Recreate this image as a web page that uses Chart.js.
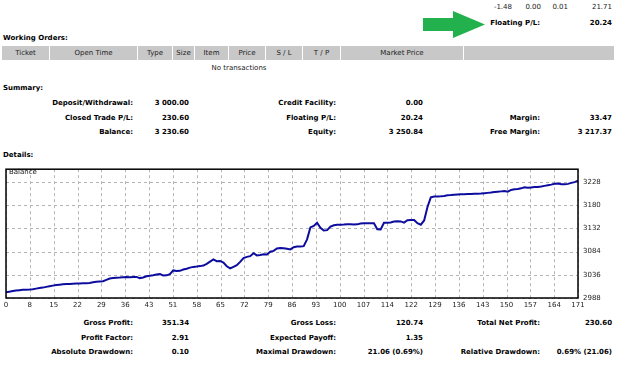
<!DOCTYPE html>
<html><head><meta charset="utf-8">
<script src="https://cdn.jsdelivr.net/npm/chart.js@4.4.1/dist/chart.umd.min.js"></script>
<style>
html,body{margin:0;padding:0;background:#fff;}
body{width:625px;height:366px;position:relative;overflow:hidden;font-family:"DejaVu Sans",sans-serif;font-size:7px;color:#222;}
.t{position:absolute;white-space:nowrap;line-height:9px;height:9px;}
.b{font-weight:bold;color:#000;}
.hc{position:absolute;top:0;height:14px;line-height:14px;text-align:center;color:#222;}
.sep{position:absolute;top:0;width:1px;height:14px;background:#fff;}
#wrap{position:absolute;left:0;top:160px;width:625px;height:155px;}
</style>
</head><body>

<!-- top fragment -->
<div class="t" style="right:113px;top:3px">-1.48</div>
<div class="t" style="right:84px;top:3px">0.00</div>
<div class="t" style="right:57px;top:3px">0.01</div>
<div class="t" style="right:13px;top:3px">21.71</div>
<svg style="position:absolute;left:0;top:0" width="625" height="45">
  <polygon points="423,18 453,18 453,11 485,24.5 453,38 453,31 423,31" fill="#22b14c"/>
</svg>
<div class="t b" style="right:85px;top:19px">Floating P/L:</div>
<div class="t b" style="right:13px;top:19px">20.24</div>

<!-- working orders -->
<div class="t b" style="left:3px;top:34px">Working Orders:</div>
<div style="position:absolute;left:2px;top:46px;width:612px;height:14px;background:#c8c8c8;">
  <div class="hc" style="left:0;width:47px">Ticket</div>
  <div class="sep" style="left:47px"></div>
  <div class="hc" style="left:48px;width:87px">Open Time</div>
  <div class="sep" style="left:135px"></div>
  <div class="hc" style="left:136px;width:34px">Type</div>
  <div class="sep" style="left:170px"></div>
  <div class="hc" style="left:171px;width:21px">Size</div>
  <div class="sep" style="left:192px"></div>
  <div class="hc" style="left:193px;width:33px">Item</div>
  <div class="sep" style="left:226px"></div>
  <div class="hc" style="left:227px;width:36px">Price</div>
  <div class="sep" style="left:263px"></div>
  <div class="hc" style="left:264px;width:36px">S / L</div>
  <div class="sep" style="left:300px"></div>
  <div class="hc" style="left:301px;width:37px">T / P</div>
  <div class="sep" style="left:338px"></div>
  <div class="hc" style="left:339px;width:122px">Market Price</div>
  <div class="sep" style="left:461px"></div>
</div>
<div class="t" style="left:0;width:478px;text-align:center;top:64px">No transactions</div>

<!-- summary -->
<div class="t b" style="left:3px;top:84px">Summary:</div>
<div class="t b" style="right:492px;top:99px">Deposit/Withdrawal:</div>
<div class="t b" style="right:436px;top:99px">3 000.00</div>
<div class="t b" style="right:289px;top:99px">Credit Facility:</div>
<div class="t b" style="right:202px;top:99px">0.00</div>

<div class="t b" style="right:492px;top:114px">Closed Trade P/L:</div>
<div class="t b" style="right:436px;top:114px">230.60</div>
<div class="t b" style="right:289px;top:114px">Floating P/L:</div>
<div class="t b" style="right:202px;top:114px">20.24</div>
<div class="t b" style="right:85px;top:114px">Margin:</div>
<div class="t b" style="right:13px;top:114px">33.47</div>

<div class="t b" style="right:492px;top:128px">Balance:</div>
<div class="t b" style="right:436px;top:128px">3 230.60</div>
<div class="t b" style="right:289px;top:128px">Equity:</div>
<div class="t b" style="right:202px;top:128px">3 250.84</div>
<div class="t b" style="right:85px;top:128px">Free Margin:</div>
<div class="t b" style="right:13px;top:128px">3 217.37</div>

<div class="t b" style="left:3px;top:151px">Details:</div>

<div id="wrap"><canvas id="c" width="625" height="155"></canvas></div>
<div class="t" style="left:9px;top:168px;color:#111">Balance</div>

<!-- stats -->
<div class="t b" style="right:492px;top:319px">Gross Profit:</div>
<div class="t b" style="right:436px;top:319px">351.34</div>
<div class="t b" style="right:289px;top:319px">Gross Loss:</div>
<div class="t b" style="right:202px;top:319px">120.74</div>
<div class="t b" style="right:85px;top:319px">Total Net Profit:</div>
<div class="t b" style="right:13px;top:319px">230.60</div>

<div class="t b" style="right:492px;top:334px">Profit Factor:</div>
<div class="t b" style="right:436px;top:334px">2.91</div>
<div class="t b" style="right:289px;top:334px">Expected Payoff:</div>
<div class="t b" style="right:202px;top:334px">1.35</div>

<div class="t b" style="right:492px;top:348px">Absolute Drawdown:</div>
<div class="t b" style="right:436px;top:348px">0.10</div>
<div class="t b" style="right:289px;top:348px">Maximal Drawdown:</div>
<div class="t b" style="right:202px;top:348px">21.06 (0.69%)</div>
<div class="t b" style="right:85px;top:348px">Relative Drawdown:</div>
<div class="t b" style="right:13px;top:348px">0.69% (21.06)</div>

<script>
const xTickLabels = ['0','8','15','22','29','36','43','51','58','65','72','79','86','93','100','107','114','122','129','136','143','150','157','164','171'];
const yTicks = [2988, 3036, 3084, 3132, 3180, 3228];
const balance = [
 3000.00,3001.1,3002.3,3003.5,3004.2,3004.9,3005.3,3005.6,3006.2,3007.4,
 3008.6,3009.5,3011.0,3012.4,3013.6,3014.8,3015.6,3016.3,3016.9,3017.2,
 3017.5,3017.9,3018.1,3018.4,3018.7,3019.2,3020.6,3021.8,3022.3,3022.8,
 3025.6,3028.4,3029.3,3029.7,3030.2,3030.9,3031.6,3031.0,3031.3,3031.7,
 3029.2,3030.4,3033.1,3034.2,3035.0,3036.8,3037.4,3034.6,3034.9,3037.3,
 3045.1,3043.8,3044.2,3046.9,3048.7,3050.9,3052.4,3053.1,3054.0,3055.2,
 3058.6,3063.4,3067.9,3064.3,3064.8,3061.2,3053.7,3049.3,3052.6,3055.9,
 3062.8,3070.5,3073.1,3074.6,3080.8,3076.2,3077.1,3078.3,3078.0,3083.9,
 3085.6,3090.7,3091.4,3091.2,3090.1,3088.6,3093.2,3094.5,3094.6,3095.3,
 3109.4,3134.2,3137.1,3143.8,3133.5,3127.6,3128.4,3135.9,3138.6,3139.5,
 3139.8,3140.2,3140.9,3140.6,3140.1,3140.4,3142.3,3142.7,3142.5,3142.8,
 3142.6,3130.4,3130.1,3143.7,3143.9,3144.2,3146.4,3146.8,3146.5,3144.1,
 3148.9,3149.6,3149.3,3142.8,3139.7,3148.5,3176.3,3196.4,3198.1,3198.3,
 3198.5,3199.2,3200.7,3201.0,3201.6,3202.2,3202.5,3202.9,3203.3,3203.4,
 3203.6,3203.8,3204.1,3204.8,3205.6,3206.3,3207.2,3208.0,3208.7,3209.3,
 3208.1,3211.6,3212.9,3213.8,3215.0,3217.3,3216.2,3216.9,3217.6,3217.9,
 3218.8,3220.1,3221.4,3222.7,3224.5,3224.8,3223.4,3223.6,3224.2,3226.3,
 3227.9,3230.6
];
const tradeNumbers = balance.map((_, i) => i);
const lastTrade = tradeNumbers[tradeNumbers.length - 1];

// dashed grid drawn from the scales' own ticks, plus the black frame
const frameGridPlugin = {
  id: 'frameGrid',
  beforeDatasetsDraw(chart) {
    const {ctx, chartArea: a, scales} = chart;
    ctx.save();
    ctx.strokeStyle = '#b4b4b4';
    ctx.lineWidth = 1;
    ctx.setLineDash([3, 3]);
    ctx.beginPath();
    scales.x.ticks.forEach(t => {
      const px = Math.round(scales.x.getPixelForValue(t.value)) + 0.5;
      ctx.moveTo(px, a.top);
      ctx.lineTo(px, a.bottom);
    });
    scales.y.ticks.forEach(t => {
      const py = Math.round(scales.y.getPixelForValue(t.value)) + 0.5;
      ctx.moveTo(a.left, py);
      ctx.lineTo(a.right, py);
    });
    ctx.stroke();
    ctx.restore();
  },
  afterDraw(chart) {
    const {ctx, chartArea: a} = chart;
    ctx.save();
    ctx.strokeStyle = '#000';
    ctx.lineWidth = 1.5;
    ctx.strokeRect(a.left, a.top, a.right - a.left, a.bottom - a.top);
    ctx.restore();
  }
};

const tickFont = {family: 'DejaVu Sans', size: 7};

new Chart(document.getElementById('c'), {
  type: 'line',
  data: {
    datasets: [{
      label: 'Balance',
      data: tradeNumbers.map((t, i) => ({x: t, y: balance[i]})),
      borderColor: '#0c0c9e',
      borderWidth: 2,
      pointRadius: 0,
      tension: 0,
      fill: false
    }]
  },
  options: {
    responsive: false,
    animation: false,
    devicePixelRatio: 1,
    layout: {padding: {left: 6, top: 6, right: 0, bottom: 0}},
    plugins: {legend: {display: false}, tooltip: {enabled: false}},
    scales: {
      x: {
        type: 'linear',
        min: 0,
        max: lastTrade,
        afterBuildTicks: s => {
          s.ticks = xTickLabels.map((l, i) => ({value: i * lastTrade / (xTickLabels.length - 1)}));
        },
        afterFit: s => { s.height = 17; },
        ticks: {autoSkip: false, maxRotation: 0, minRotation: 0, padding: 3, color: '#222', font: tickFont,
                callback: (v, i) => xTickLabels[i]},
        grid: {display: false, drawTicks: false},
        border: {display: false}
      },
      y: {
        position: 'right',
        min: yTicks[0],
        max: 3254.6,
        afterBuildTicks: s => { s.ticks = yTicks.map(v => ({value: v})); },
        afterFit: s => { s.width = 47; },
        ticks: {padding: 5, color: '#222', font: tickFont, callback: v => String(v)},
        grid: {display: false, drawTicks: false},
        border: {display: false}
      }
    }
  },
  plugins: [frameGridPlugin]
});
</script>
</body></html>
